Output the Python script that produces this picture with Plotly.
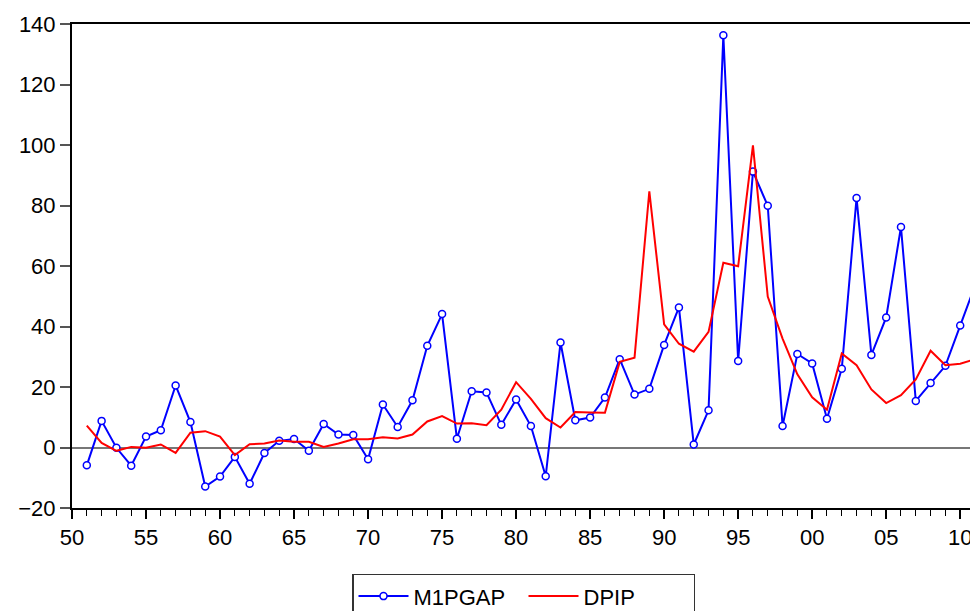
import plotly.graph_objects as go

years = list(range(1951, 2012))

m1pgap = [-5.9, 8.8, -0.1, -6.0, 3.6, 5.7, 20.5, 8.4, -12.9, -9.6,
          -3.1, -12.0, -1.8, 2.2, 2.8, -1.1, 7.8, 4.3, 4.1, -3.9,
          14.2, 6.8, 15.6, 33.6, 44.1, 2.9, 18.6, 18.2, 7.5, 15.9,
          7.1, -9.5, 34.7, 9.0, 9.9, 16.5, 29.2, 17.5, 19.4, 33.9,
          46.3, 1.0, 12.3, 136.3, 28.6, 91.2, 79.9, 7.1, 30.9, 27.8,
          9.5, 26.0, 82.5, 30.6, 43.0, 72.9, 15.4, 21.3, 27.0, 40.3,
          53.5]

dpip = [7.2, 1.5, -1.1, 0.2, -0.1, 1.0, -1.8, 4.9, 5.4, 3.6,
        -2.5, 1.1, 1.3, 2.3, 1.9, 1.9, 0.2, 1.3, 2.7, 2.7,
        3.4, 3.0, 4.3, 8.6, 10.4, 7.9, 8.0, 7.4, 12.5, 21.6,
        16.1, 9.7, 6.6, 11.7, 11.6, 11.5, 28.3, 29.7, 84.7, 40.7,
        34.3, 31.7, 38.2, 61.1, 59.9, 99.9, 49.9, 36.0, 24.2, 16.6,
        12.5, 31.1, 27.2, 19.2, 14.7, 17.3, 22.5, 32.0, 27.2, 27.7,
        29.2]

tick_years = list(range(1950, 2011, 5))
tick_labels = ["50", "55", "60", "65", "70", "75", "80", "85", "90", "95", "00", "05", "10"]

FONT = "Liberation Sans, Arial, sans-serif"

fig = go.Figure()
fig.add_trace(go.Scatter(
    x=years, y=m1pgap, name="M1PGAP", mode="lines+markers",
    line=dict(color="#0000ff", width=2),
    marker=dict(symbol="circle", size=7, color="white",
                line=dict(color="#0000ff", width=1.5)),
))
fig.add_trace(go.Scatter(
    x=years, y=dpip, name="DPIP", mode="lines",
    line=dict(color="#ff0000", width=2),
))

# page body adds an 8px margin, so the figure is sized/positioned to compensate
fig.update_layout(
    width=970, height=603,
    margin=dict(l=64, r=3, t=16, b=103, autoexpand=False),
    paper_bgcolor="white", plot_bgcolor="white",
    font=dict(family=FONT, size=22, color="black"),
    showlegend=True,
    legend=dict(
        orientation="h", x=0.5, xanchor="center", y=-0.136, yanchor="top",
        bordercolor="#333333", borderwidth=1.5,
        font=dict(family=FONT, size=22, color="black"),
        itemwidth=50, traceorder="normal",
        entrywidth=105, entrywidthmode="pixels",
    ),
)

fig.update_xaxes(
    range=[1950, 2011], automargin=False,
    tickmode="array", tickvals=tick_years, ticktext=tick_labels,
    ticks="outside", ticklen=9, tickwidth=1.5, tickcolor="black",
    minor=dict(tickmode="linear", tick0=1950, dtick=1, ticks="outside",
               ticklen=6, tickwidth=1, tickcolor="black"),
    showline=True, linecolor="black", linewidth=2, mirror=True,
    showgrid=False, zeroline=False,
    tickfont=dict(family=FONT, size=22, color="black"),
)

fig.update_yaxes(
    range=[-20, 140], automargin=False, tickmode="linear", tick0=-20, dtick=20,
    ticks="outside", ticklen=10, tickwidth=1.5, tickcolor="#555555",
    showline=True, linecolor="black", linewidth=2, mirror=True,
    showgrid=False,
    zeroline=True, zerolinecolor="#777777", zerolinewidth=1.5,
    tickfont=dict(family=FONT, size=22, color="black"),
)

fig.write_html("out.html")
